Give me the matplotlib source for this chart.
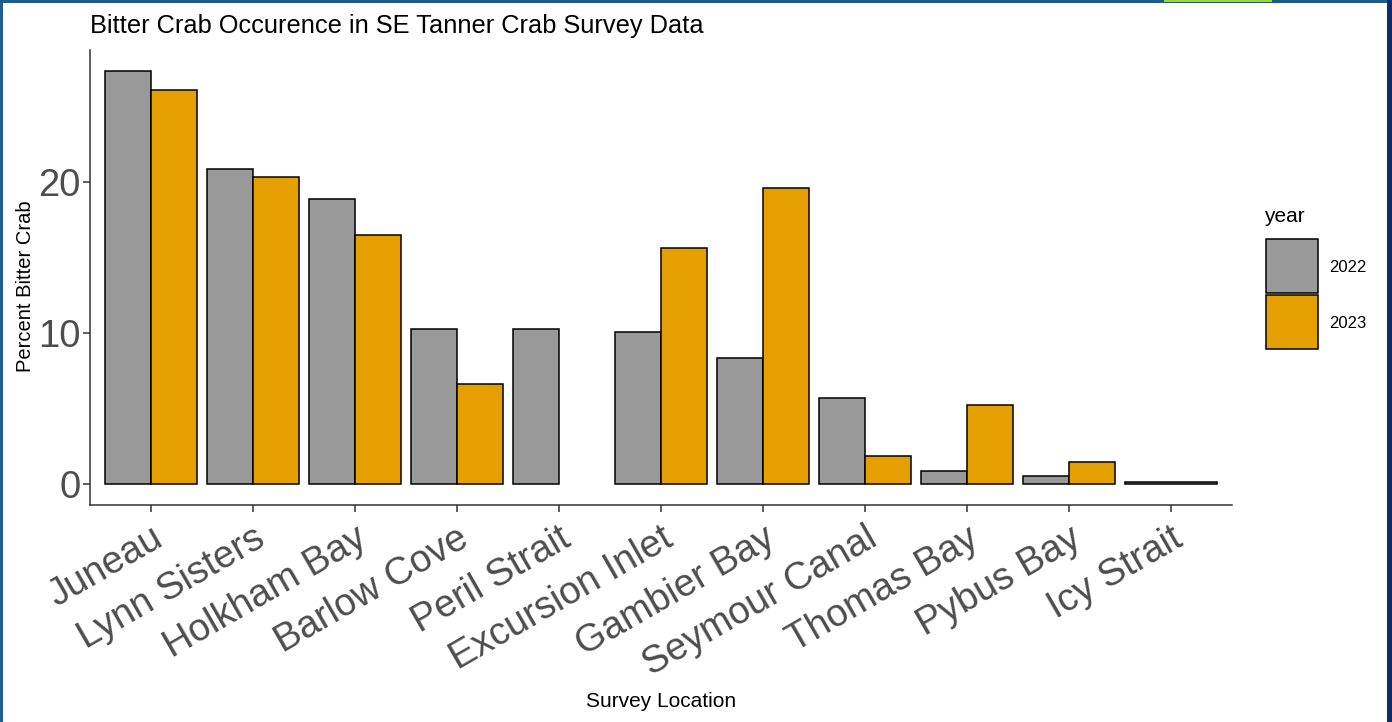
import numpy as np
import matplotlib
matplotlib.use("Agg")
import matplotlib.pyplot as plt
from matplotlib.patches import Rectangle

plt.rcParams['font.family'] = ['Liberation Sans', 'DejaVu Sans']

locations = ['Juneau', 'Lynn Sisters', 'Holkham Bay', 'Barlow Cove', 'Peril Strait',
             'Excursion Inlet', 'Gambier Bay', 'Seymour Canal', 'Thomas Bay',
             'Pybus Bay', 'Icy Strait']
# None = no row for that year (bar takes full width), nan = row present but NA
pct_2022 = [27.4, 20.9, 18.9, 10.3, 10.3, 10.1, 8.4, 5.7, 0.85, 0.55, 0.15]
pct_2023 = [26.1, 20.35, 16.5, 6.65, np.nan, 15.65, 19.6, 1.9, 5.25, 1.45, None]
years = ['2022', '2023']
colors = ['#999999', '#E69F00']

fig = plt.figure(figsize=(13.92, 7.22), dpi=100)
ax = fig.add_axes([90 / 1392, 1 - 505 / 722, (1232 - 90) / 1392, (505 - 50) / 722])

width = 0.9
for i, loc in enumerate(locations):
    vals = [pct_2022[i], pct_2023[i]]
    present = [k for k, v in enumerate(vals) if v is not None]
    n = len(present)
    w = width / n
    for j, k in enumerate(present):
        v = vals[k]
        if np.isnan(v):
            continue
        left = i - width / 2 + j * w
        ax.bar(left, v, width=w, align='edge', color=colors[k],
               edgecolor='black', linewidth=1.1)

ax.set_xlim(-0.6, len(locations) - 0.4)
ymax = max(pct_2022)
ax.set_ylim(-0.05 * ymax, 1.05 * ymax)
ax.set_yticks([0, 10, 20])
ax.set_xticks(range(len(locations)))
ax.set_xticklabels(locations, rotation=30, ha='right', rotation_mode='anchor')

for s in ['top', 'right']:
    ax.spines[s].set_visible(False)
for s in ['left', 'bottom']:
    ax.spines[s].set_color('#333333')
    ax.spines[s].set_linewidth(1.1)
ax.tick_params(axis='both', colors='#333333', length=5, width=1.1)
ax.tick_params(axis='both', labelsize=27.5, labelcolor='#4D4D4D')
ax.tick_params(axis='x', pad=6)
ax.tick_params(axis='y', pad=2)

ax.set_ylabel('Percent Bitter Crab', fontsize=14.5, labelpad=2)
ax.yaxis.label.set_position((0, 0.5 - 9 / 455))
ax.set_xlabel('Survey Location', fontsize=15, labelpad=6)
ax.set_title('Bitter Crab Occurence in SE Tanner Crab Survey Data',
             fontsize=18.3, loc='left', pad=12)

# legend drawn in figure pixel coords to match ggplot guide
def fx(px):
    return px / 1392

def fy(py):
    return 1 - py / 722

fig.text(fx(1264), fy(217), 'year', fontsize=15, va='center', ha='left')
for k, yr in enumerate(years):
    top = 239 + k * 56
    fig.patches.append(Rectangle((fx(1266), fy(top + 54)), fx(52), 54 / 722,
                                 facecolor=colors[k], edgecolor='black',
                                 linewidth=1.1, transform=fig.transFigure))
    fig.text(fx(1329), fy(top + 28), yr, fontsize=12, va='center', ha='left')

# slide frame
fig.patches.append(Rectangle((0, 0), 3 / 1392, 1, facecolor='#1F5F8F',
                             edgecolor='none', transform=fig.transFigure))
fig.patches.append(Rectangle((0, 1 - 3 / 722), 1, 3 / 722, facecolor='#1E5A8C',
                             edgecolor='none', transform=fig.transFigure))
fig.patches.append(Rectangle((1 - 5 / 1392, 0), 5 / 1392, 1, facecolor='#0B2D6B',
                             edgecolor='none', transform=fig.transFigure))
fig.patches.append(Rectangle((fx(1164), 1 - 1.5 / 722), fx(108), 1.5 / 722,
                             facecolor='#A8D42A', edgecolor='none',
                             transform=fig.transFigure))

fig.savefig('out.png', dpi=100)
